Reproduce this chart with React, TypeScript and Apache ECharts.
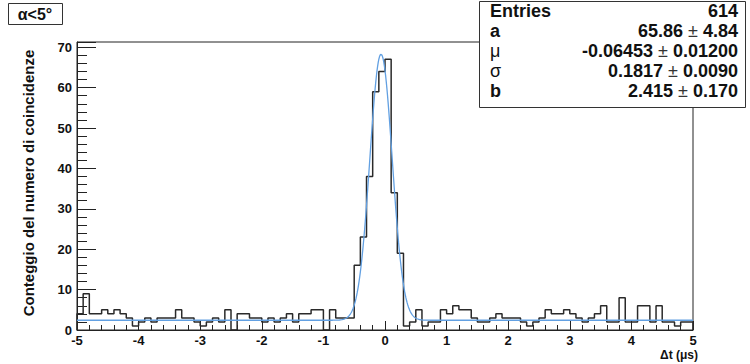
import React, { useEffect, useRef } from "react";
import * as echarts from "echarts";

const X_MIN = -5;
const X_MAX = 5;
const BIN_WIDTH = 0.1;
const Y_MAX = 71.3;

// histogram counts, 100 bins of width 0.1 from -5 to 5
const counts = [
  4, 9, 4, 4, 5, 4, 5, 4, 3, 1,
  2, 3, 2, 3, 3, 3, 5, 3, 3, 2,
  1, 2, 3, 2, 5, 0, 4, 4, 3, 3,
  2, 3, 2, 3, 4, 2, 4, 4, 5, 5,
  0, 5, 3, 3, 3, 16, 23, 38, 59, 64,
  67, 34, 19, 1, 2, 5, 1, 2, 2, 5,
  4, 6, 5, 5, 3, 2, 2, 3, 4, 3,
  3, 3, 2, 1, 2, 3, 5, 4, 4, 5,
  4, 3, 2, 3, 4, 6, 2, 2, 8, 2,
  2, 6, 6, 2, 6, 2, 2, 1, 2, 2,
];

// fit parameters (gaus + constant), as shown in the stats box
const fitA = 65.86;
const fitMu = -0.06453;
const fitSigma = 0.1817;
const fitB = 2.415;

const statNames = ["Entries", "a", "μ", "σ", "b"];
const statValues = ["614", "65.86", "-0.06453", "0.1817", "2.415"];
const statErrors = ["", "4.84", "0.01200", "0.0090", "0.170"];

const titleText = "α<5°";
const yTitle = "Conteggio del numero di coincidenze";
const xTitle = "Δt (μs)";

const FONT = "'Liberation Sans', Arial, Helvetica, sans-serif";

export default function App() {
  const ref = useRef<HTMLDivElement>(null);

  useEffect(() => {
    document.body.style.margin = "0";
    if (!ref.current) return;
    const chart = echarts.init(ref.current, undefined, { renderer: "svg" });

    const stepPts: number[][] = [[X_MIN, 0]];
    counts.forEach((c, i) => {
      const lo = X_MIN + i * BIN_WIDTH;
      stepPts.push([lo, c], [lo + BIN_WIDTH, c]);
    });
    stepPts.push([X_MAX, 0]);

    const fitPts: number[][] = [];
    for (let k = 0; k <= 1000; k++) {
      const x = X_MIN + (k * (X_MAX - X_MIN)) / 1000;
      const z = (x - fitMu) / fitSigma;
      fitPts.push([x, fitA * Math.exp(-0.5 * z * z) + fitB]);
    }

    const statElems: any[] = [];
    const rowY = [12, 32, 52, 72, 92];
    statNames.forEach((n, i) => {
      const greek = n === "μ" || n === "σ";
      statElems.push({
        type: "text",
        left: 490,
        top: rowY[i] - 10,
        style: {
          text: n,
          font: `${greek ? "normal" : "bold"} 18px ${FONT}`,
          fill: "#111",
        },
      });
      const txt = statErrors[i]
        ? `{v|${statValues[i]}}{p| ± }{v|${statErrors[i]}}`
        : `{v|${statValues[i]}}`;
      statElems.push({
        type: "text",
        right: 750 - 738,
        top: rowY[i] - 10,
        style: {
          text: txt,
          rich: {
            v: { font: `bold 18px ${FONT}`, fill: "#111" },
            p: { font: `normal 18px ${FONT}`, fill: "#333" },
          },
        },
      });
    });

    chart.setOption({
      animation: false,
      backgroundColor: "#fff",
      grid: {
        left: 77,
        right: 57,
        top: 42,
        bottom: 34,
        show: true,
        borderColor: "#222",
        borderWidth: 1,
        backgroundColor: "transparent",
      },
      xAxis: {
        type: "value",
        min: X_MIN,
        max: X_MAX,
        interval: 1,
        splitLine: { show: false },
        axisLine: { show: true, onZero: false, lineStyle: { color: "#222", width: 1 } },
        axisTick: { show: true, inside: true, length: 9, lineStyle: { color: "#222" } },
        minorTick: { show: true, splitNumber: 5, length: 5, lineStyle: { color: "#222" } },
        axisLabel: {
          margin: 4,
          fontFamily: FONT,
          fontWeight: "bold",
          fontSize: 13,
          color: "#111",
        },
      },
      yAxis: {
        type: "value",
        min: 0,
        max: Y_MAX,
        interval: 10,
        splitLine: { show: false },
        axisLine: { show: true, onZero: false, lineStyle: { color: "#222", width: 1 } },
        axisTick: { show: true, inside: true, length: 19, lineStyle: { color: "#222" } },
        minorTick: { show: true, splitNumber: 5, length: 10, lineStyle: { color: "#222" } },
        axisLabel: {
          margin: 5,
          fontFamily: FONT,
          fontWeight: "bold",
          fontSize: 13,
          color: "#111",
          formatter: (v: number) => (Math.abs(v % 10) < 1e-6 ? String(v) : ""),
        },
      },
      series: [
        {
          type: "line",
          data: stepPts,
          showSymbol: false,
          lineStyle: { color: "#2a2a2a", width: 1.5 },
          z: 2,
        },
        {
          type: "line",
          data: fitPts,
          showSymbol: false,
          smooth: false,
          lineStyle: { color: "#62a0e2", width: 1.3 },
          z: 3,
        },
      ],
      graphic: [
        {
          type: "rect",
          shape: { x: 8.5, y: 3.5, width: 54, height: 21 },
          style: { fill: "#fff", stroke: "#333", lineWidth: 1 },
        },
        {
          type: "text",
          x: 35,
          y: 14,
          style: {
            text: titleText,
            font: `bold 16px ${FONT}`,
            fill: "#111",
            align: "center",
            verticalAlign: "middle",
          },
        },
        {
          type: "rect",
          shape: { x: 479.5, y: 1.5, width: 266, height: 106 },
          style: { fill: "#fff", stroke: "#333", lineWidth: 1 },
          z: 10,
        },
        ...statElems.map((e) => ({ ...e, z: 11 })),
        {
          type: "text",
          x: 28,
          y: 183,
          rotation: Math.PI / 2,
          style: {
            text: yTitle,
            font: `bold 15px ${FONT}`,
            fill: "#111",
            align: "center",
            verticalAlign: "middle",
          },
        },
        {
          type: "text",
          x: 698,
          y: 355,
          style: {
            text: xTitle,
            font: `bold 12px ${FONT}`,
            fill: "#111",
            align: "right",
            verticalAlign: "middle",
          },
        },
      ],
    });

    return () => chart.dispose();
  }, []);

  return (
    <div
      ref={ref}
      style={{ width: 750, height: 364, position: "absolute", left: 0, top: 0 }}
    />
  );
}
